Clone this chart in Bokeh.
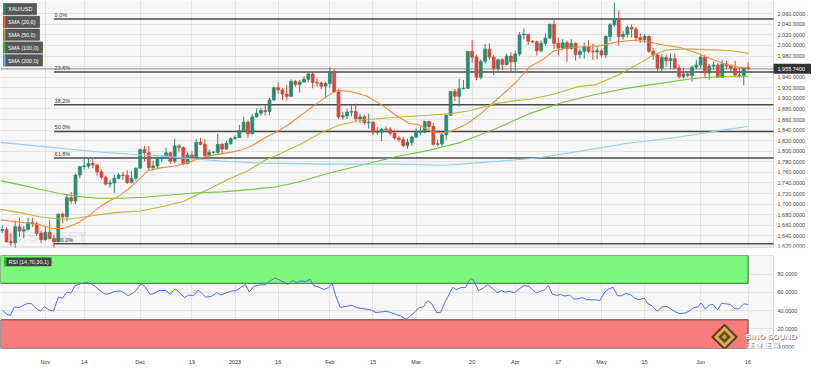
import pandas as pd
from bokeh.plotting import figure
from bokeh.models import ColumnDataSource, FixedTicker, Range1d, Grid
from bokeh.layouts import column
from bokeh.embed import file_html
from bokeh.resources import INLINE
from bokeh.core.properties import value

# ---------------- data ----------------
start_date = "2022-10-18"
end_date = "2023-06-16"

opens = [1650, 1652, 1629, 1627, 1657, 1649, 1652, 1665, 1663, 1645,
         1633, 1647, 1635, 1629, 1681, 1676, 1712, 1706, 1755, 1771,
         1772, 1777, 1774, 1761, 1751, 1738, 1740, 1749, 1755, 1754,
         1741, 1749, 1768, 1803, 1797, 1769, 1772, 1786, 1789, 1797,
         1781, 1810, 1807, 1777, 1793, 1787, 1817, 1813, 1792, 1798,
         1798, 1813, 1804, 1815, 1824, 1826, 1839, 1855, 1833, 1865,
         1872, 1877, 1875, 1897, 1920, 1916, 1908, 1904, 1932, 1926,
         1931, 1936, 1946, 1930, 1929, 1923, 1928, 1951, 1912, 1865,
         1867, 1874, 1875, 1861, 1865, 1854, 1855, 1836, 1836, 1842,
         1841, 1834, 1825, 1822, 1811, 1817, 1827, 1836, 1836, 1856,
         1847, 1813, 1814, 1831, 1868, 1913, 1904, 1918, 1919, 1989,
         1978, 1940, 1970, 1993, 1978, 1956, 1973, 1964, 1980, 1969,
         1984, 2020, 2021, 2008, 2007, 1990, 2004, 2014, 2040, 2004,
         1995, 2005, 1994, 2004, 1983, 1989, 1998, 1989, 1988, 1990,
         1982, 2017, 2039, 2050, 2017, 2021, 2034, 2031, 2015, 2011,
         2017, 1989, 1982, 1957, 1977, 1971, 1975, 1957, 1941, 1946,
         1943, 1959, 1963, 1978, 1948, 1961, 1963, 1940, 1965, 1961,
         1957, 1944, 1943, 1958]
highs = [1660, 1656, 1645, 1669, 1675, 1659, 1674, 1674, 1667, 1650,
         1658, 1669, 1642, 1682, 1684, 1717, 1723, 1758, 1772, 1786,
         1787, 1786, 1775, 1766, 1754, 1746, 1755, 1759, 1761, 1764,
         1763, 1769, 1805, 1810, 1810, 1782, 1790, 1793, 1807, 1799,
         1824, 1814, 1809, 1799, 1800, 1823, 1825, 1823, 1803, 1800,
         1833, 1815, 1820, 1826, 1830, 1850, 1865, 1858, 1870, 1881,
         1882, 1887, 1901, 1922, 1930, 1920, 1925, 1936, 1935, 1935,
         1942, 1949, 1948, 1938, 1932, 1932, 1959, 1956, 1918, 1874,
         1880, 1886, 1890, 1871, 1869, 1871, 1857, 1846, 1844, 1847,
         1846, 1841, 1829, 1827, 1824, 1829, 1843, 1846, 1858, 1858,
         1853, 1822, 1835, 1870, 1914, 1918, 1937, 1935, 1989, 2010,
         1983, 1974, 2003, 2004, 1982, 1975, 1976, 1985, 1987, 1990,
         2025, 2032, 2022, 2010, 2009, 2009, 2023, 2041, 2048, 2015,
         2012, 2009, 2012, 2006, 1994, 2005, 2010, 2003, 2000, 1993,
         2019, 2042, 2081, 2066, 2027, 2037, 2040, 2035, 2023, 2022,
         2019, 1995, 1985, 1984, 1983, 1985, 1985, 1964, 1958, 1948,
         1962, 1973, 1983, 1983, 1965, 1969, 1967, 1973, 1971, 1964,
         1971, 1959, 1958, 1968]
lows = [1645, 1627, 1621, 1617, 1638, 1636, 1650, 1657, 1640, 1627,
        1631, 1634, 1617, 1628, 1664, 1668, 1701, 1700, 1749, 1765,
        1767, 1768, 1754, 1747, 1735, 1731, 1721, 1747, 1746, 1738,
        1739, 1745, 1767, 1781, 1764, 1765, 1768, 1779, 1788, 1776,
        1778, 1799, 1773, 1775, 1784, 1785, 1811, 1785, 1790, 1795,
        1795, 1795, 1803, 1812, 1822, 1826, 1837, 1825, 1832, 1863,
        1867, 1867, 1868, 1895, 1909, 1897, 1896, 1902, 1922, 1911,
        1929, 1930, 1919, 1922, 1917, 1900, 1920, 1910, 1861, 1860,
        1861, 1866, 1857, 1853, 1850, 1843, 1830, 1831, 1819, 1836,
        1830, 1822, 1818, 1808, 1805, 1810, 1825, 1830, 1834, 1841,
        1811, 1809, 1810, 1822, 1867, 1895, 1885, 1917, 1918, 1967,
        1934, 1936, 1966, 1973, 1944, 1950, 1953, 1962, 1949, 1950,
        1980, 2011, 2001, 2004, 1981, 1987, 1999, 2013, 1993, 1981,
        1991, 1969, 1992, 1971, 1975, 1975, 1986, 1973, 1974, 1977,
        1976, 2008, 2035, 2000, 2011, 2015, 2015, 2008, 2005, 2005,
        1986, 1973, 1952, 1951, 1960, 1955, 1957, 1937, 1938, 1940,
        1932, 1955, 1957, 1939, 1935, 1954, 1940, 1939, 1955, 1951,
        1940, 1939, 1925, 1953]
closes = [1652, 1629, 1627, 1657, 1649, 1652, 1665, 1663, 1645, 1633,
          1647, 1635, 1629, 1681, 1676, 1712, 1706, 1755, 1771, 1772,
          1777, 1774, 1761, 1751, 1738, 1740, 1749, 1755, 1754, 1741,
          1749, 1768, 1803, 1797, 1769, 1772, 1786, 1789, 1797, 1781,
          1810, 1807, 1777, 1793, 1787, 1817, 1813, 1792, 1798, 1798.5,
          1813, 1804, 1815, 1824, 1826, 1839, 1855, 1833, 1865, 1872,
          1877, 1875, 1897, 1920, 1916, 1908, 1904, 1932, 1926, 1931,
          1936, 1946, 1930, 1929, 1923, 1928, 1951, 1912, 1865, 1867,
          1874, 1875, 1861, 1865, 1854, 1855, 1836, 1836.5, 1842, 1841,
          1834, 1825, 1822, 1811, 1817, 1827, 1836, 1836.5, 1856, 1847,
          1813, 1814, 1831, 1868, 1913, 1904, 1918, 1919, 1989, 1978,
          1940, 1970, 1993, 1978, 1956, 1973, 1964, 1980, 1969, 1984,
          2020, 2021, 2008, 2007, 1990, 2004, 2014, 2040, 2004, 1995,
          2005, 1994, 2004, 1983, 1989, 1998, 1989, 1988, 1990, 1982,
          2017, 2039, 2050, 2017, 2021, 2034, 2031, 2015, 2011, 2017,
          1989, 1982, 1957, 1977, 1971, 1975, 1957, 1941, 1946, 1943,
          1959, 1963, 1978, 1948, 1961, 1963, 1940, 1965, 1961, 1957,
          1944, 1943, 1958, 1955.74]

# moving averages (candle position, price)
sma20_pos = [-0.4, 4.2, 8.7, 11.7, 14.0, 15.9, 17.8, 20.1, 22.3, 24.6,
             26.9, 29.2, 31.4, 33.7, 36.7, 39.8, 42.8, 45.8, 48.9, 52.6,
             55.7, 58.0, 61.0, 63.3, 66.3, 69.3, 72.3, 75.4, 77.6, 80.7,
             84.5, 88.3, 91.3, 94.3, 96.6, 99.6, 101.9, 104.2, 108.0, 111.0,
             114.8, 119.3, 122.3, 125.4, 128.0, 131.4, 136.0, 139.0, 142.8, 146.6,
             149.6, 153.4, 157.2, 161.7, 164.8, 167.8, 170.8, 173.0]
sma20_val = [1670.2, 1665.8, 1661.1, 1653.9, 1653.9, 1658.6, 1665.8, 1677.9, 1693.0, 1705.1,
             1714.2, 1728.1, 1744.4, 1762.5, 1768.5, 1771.5, 1777.5, 1786.6, 1792.6, 1797.4,
             1802.9, 1810.7, 1825.9, 1834.9, 1850.0, 1868.0, 1886.2, 1904.3, 1914.6, 1913.3,
             1904.3, 1886.2, 1868.0, 1853.0, 1850.0, 1836.7, 1835.0, 1837.8, 1853.0, 1871.1,
             1898.3, 1931.4, 1959.5, 1973.6, 1989.9, 1995.7, 1997.9, 1999.7, 2006.9, 2009.8,
             2006.9, 2000.8, 1996.1, 1983.9, 1973.6, 1964.6, 1958.6, 1957.3]
sma50_pos = [-0.4, 4.2, 8.7, 13.3, 15.9, 20.8, 26.1, 32.2, 37.5, 42.0,
             45.1, 48.9, 52.6, 57.2, 61.0, 63.3, 69.3, 73.9, 78.4, 83.7,
             91.3, 98.9, 104.2, 108.7, 114.0, 118.5, 122.3, 127.6, 133.7, 137.5,
             143.5, 148.1, 151.1, 154.2, 158.7, 164.8, 169.3, 173.1]
sma50_val = [1690.1, 1683.9, 1676.1, 1672.0, 1672.0, 1677.9, 1683.9, 1687.0, 1696.0, 1705.1,
             1717.2, 1732.3, 1747.3, 1764.0, 1783.5, 1791.1, 1813.7, 1834.9, 1850.0, 1859.0,
             1864.4, 1868.0, 1871.1, 1877.1, 1889.2, 1895.2, 1898.3, 1907.3, 1922.4, 1925.4,
             1946.5, 1967.6, 1982.7, 1991.7, 1993.5, 1991.7, 1989.9, 1985.1]
sma100_pos = [-0.4, 4.2, 8.7, 13.3, 17.8, 22.3, 27.6, 32.9, 39.0, 45.1,
              51.1, 57.2, 63.3, 68.5, 76.1, 83.7, 91.3, 98.9, 106.4, 114.0,
              122.3, 129.9, 137.5, 145.1, 152.6, 160.2, 164.8, 169.3, 173.1]
sma100_val = [1744.4, 1736.4, 1728.1, 1720.1, 1714.2, 1711.1, 1711.1, 1712.9, 1717.2, 1721.4,
              1723.2, 1727.4, 1732.3, 1741.3, 1759.4, 1774.4, 1789.7, 1801.6, 1816.8, 1840.9,
              1871.1, 1892.1, 1907.3, 1919.3, 1928.3, 1937.4, 1940.5, 1941.7, 1941.7]
sma200_pos = [-0.4, 7.2, 14.8, 22.3, 29.9, 37.5, 45.1, 52.6, 60.2, 76.1,
              91.3, 102.6, 109.5, 117.0, 124.6, 133.7, 145.1, 156.4, 167.8, 172.9]
sma200_val = [1816.8, 1810.7, 1804.7, 1798.7, 1794.4, 1790.7, 1784.8, 1780.6, 1777.5, 1775.7,
              1775.7, 1773.4, 1777.5, 1782.4, 1787.8, 1799.8, 1815.0, 1825.9, 1840.9, 1846.9]

# RSI(14) (candle position, value)
rsi_pos = [0.0, 1.1, 1.9, 2.8, 3.8, 4.5, 6.0, 6.8, 7.9, 8.9,
           9.8, 10.8, 11.9, 13.0, 14.0, 15.0, 15.9, 16.9, 18.2, 19.5,
           20.4, 21.6, 22.7, 23.9, 25.0, 26.1, 27.6, 29.2, 30.7, 32.2,
           33.1, 34.3, 35.2, 36.4, 37.9, 39.0, 40.1, 41.1, 42.3, 43.2,
           44.3, 45.4, 46.2, 47.2, 48.5, 49.8, 50.7, 51.9, 53.0, 54.2,
           55.3, 56.4, 57.3, 58.3, 59.5, 61.0, 62.1, 63.3, 64.4, 65.5,
           66.3, 67.4, 68.2, 69.3, 70.4, 71.4, 72.3, 73.5, 74.6, 75.7,
           76.5, 77.3, 78.4, 79.5, 81.1, 82.2, 83.3, 84.5, 85.6, 86.7,
           87.9, 89.0, 90.1, 91.3, 92.4,
           93.7, 94.7, 95.8, 96.7, 97.7, 98.7, 99.6, 100.8, 101.7, 102.6,
           104.5, 105.3, 106.4, 107.4, 108.6, 109.3, 110.5, 111.7, 112.6, 113.6,
           114.8, 115.8, 116.7, 117.6, 118.8, 119.9, 121.0, 122.0, 123.0, 123.9,
           124.8, 125.8, 126.7, 127.6, 128.6, 129.5, 130.5, 131.6, 132.6, 133.6,
           134.6, 135.6, 136.6, 137.6, 138.6, 139.8, 140.7, 141.7, 142.7, 143.6,
           144.7, 145.7, 146.7, 147.7, 148.9, 149.8, 150.8, 151.9, 153.0, 154.2,
           155.1, 156.3, 157.2, 158.3, 159.3, 160.4, 161.4, 162.1, 163.1, 164.0,
           164.9, 165.9, 166.9, 167.8, 168.8, 169.9, 170.8, 172.0, 173.0]
rsi_val = [40.7, 35.9, 34.9, 44.1, 43.4, 44.8, 48.2, 47.5, 42.4, 39.4,
           44.5, 41.0, 39.4, 54.7, 53.7, 60.5, 59.1, 67.4, 69.7, 70.8,
           70.1, 66.4, 61.9, 58.1, 58.8, 61.2, 61.5, 56.4, 60.5, 69.4,
           66.4, 57.8, 58.8, 61.9, 62.2, 58.1, 63.9, 59.8, 54.4, 57.1,
           56.4, 62.6, 59.8, 54.7, 55.7, 59.8, 57.1, 59.5, 61.2, 61.9,
           65.3, 68.7, 60.5, 66.4, 68.1, 68.4, 72.5, 75.9, 73.5, 70.8,
           68.7, 73.5, 70.8, 72.5, 72.1, 74.2, 67.4, 65.6, 63.2, 65.3,
           70.1, 57.1, 43.4, 44.5, 45.8, 43.4, 42.4, 41.7, 40.7, 38.0,
           38.6, 39.3, 38.0, 35.9, 34.2,
           30.5, 34.2, 39.0, 43.4, 44.1, 50.9, 47.9, 37.6, 38.3, 48.5,
           65.6, 63.2, 65.3, 65.3, 75.2, 73.5, 61.9, 65.3, 68.4, 65.0,
           59.8, 61.9, 60.2, 61.2, 59.5, 63.9, 67.4, 67.0, 63.2, 59.5,
           61.2, 62.9, 67.4, 58.1, 56.8, 57.8, 56.1, 57.1, 52.7, 53.0,
           54.4, 52.0, 52.0, 52.0, 51.0, 60.5, 63.9, 65.6, 56.4, 56.4,
           58.8, 57.8, 53.7, 52.0, 53.7, 47.5, 45.1, 39.3, 44.1, 44.5,
           41.7, 38.3, 36.6, 37.3, 39.3, 43.4, 44.1, 48.5, 41.7, 46.2,
           46.8, 40.7, 48.2, 47.5, 46.8, 42.4, 41.7, 47.5, 46.8]
rsi_upper = 70
rsi_lower = 30

fib_start_date = "2022-11-03"
fib_levels = [2050.0, 1949.7, 1887.7, 1837.5, 1787.4, 1625.0]
fib_labels = ["0.0%", "23.6%", "38.2%", "50.0%", "61.8%", "100.0%"]

tick_dates = ["2022-11-01", "2022-11-14", "2022-12-01", "2022-12-19", "2023-01-02",
              "2023-01-16", "2023-02-01", "2023-02-15", "2023-03-01", "2023-03-20",
              "2023-04-03", "2023-04-17", "2023-05-01", "2023-05-15", "2023-06-01",
              "2023-06-16"]
tick_labels = ["Nov", "14", "Dec", "19", "2023", "16", "Feb", "15", "Mar", "20",
               "Apr", "17", "May", "15", "Jun", "16"]
price_ticks = [1620, 1640, 1660, 1680, 1700, 1720, 1740, 1760, 1780, 1800, 1820, 1840,
               1860, 1880, 1900, 1920, 1940, 1960, 1980, 2000, 2020, 2040, 2060]
rsi_ticks = [0, 20, 40, 60, 80]

legend_names = ["XAU/USD", "SMA (20,0)", "SMA (50,0)", "SMA (100,0)", "SMA (200,0)"]

# ---------------- styling / layout ----------------
FONT = "Liberation Sans"
FS = "5.5px"
GREEN = "#2a8a6e"
RED = "#d4473a"
SMA_COLORS = ["#f08a3c", "#c4b23c", "#7cc043", "#8ccff3"]
STRIPES = ["#2a8a6e", "#f0602a", "#b09a30", "#46b030", "#56b8ee"]
GRID = "#e3e3e3"
AXIS_LINE = "#d0d0d0"

dates = pd.bdate_range(start_date, end_date)
n = len(closes)
xs = list(range(n))
tick_idx = [int(dates.get_loc(pd.Timestamp(d))) for d in tick_dates]
fib_x0 = int(dates.get_loc(pd.Timestamp(fib_start_date)))

FW = 773            # width of the plotting area
RB = 38             # width of the value-scale strip on the right
X0, X1 = -0.4, 178.9
KX = (X1 - X0) / FW
XE = X0 + (FW + RB) * KX
MAIN_H, GAP = 247, 8
RSI_H, AXIS_H = 96, 16
PY0, PY1 = 1618.0, 2085.0
RY0, RY1 = -1.5, 100.5


def dx(px):
    return X0 + px * KX


def dyp(py):
    return PY1 - py * (PY1 - PY0) / MAIN_H


def dyr(py):
    return RY1 - py * (RY1 - RY0) / RSI_H


xr = Range1d(X0, XE)


def scale_strip(fig, y0, y1):
    """White strip on the right that carries the value labels."""
    fig.quad(left=[X1], right=[XE], bottom=[y0], top=[y1], fill_color="white", line_color=None)
    fig.segment(x0=[X1], y0=[y0], x1=[X1], y1=[y1], line_color=AXIS_LINE, line_width=1)


def scale_labels(fig, ticks, labels):
    fig.text(x=[X1] * len(ticks), y=ticks, text=labels, x_offset=4,
             text_font=value(FONT), text_font_size=FS, text_color="#444444",
             text_baseline="middle", text_align="left")


# ---------------- main price panel ----------------
p = figure(width=FW + RB, height=MAIN_H + GAP, x_range=xr, y_range=Range1d(PY0, PY1),
           x_axis_location=None, y_axis_location=None,
           output_backend="svg", toolbar_location=None,
           min_border_left=0, min_border_right=0, min_border_top=0, min_border_bottom=GAP,
           background_fill_color="#f7f7f7", border_fill_color="white",
           outline_line_color=None)
p.grid.visible = False
p.add_layout(Grid(dimension=0, ticker=FixedTicker(ticks=tick_idx), grid_line_color=GRID))
p.add_layout(Grid(dimension=1, ticker=FixedTicker(ticks=price_ticks), grid_line_color=GRID))

scale_strip(p, PY0, PY1)
scale_labels(p, price_ticks, [f"{v:,.4f}" for v in price_ticks])
p.segment(x0=[X0], y0=[PY0], x1=[X1], y1=[PY0], line_color="#cfcfcf", line_width=1)

# watermark
p.text(x=[dx(8)], y=[dyp(236)], text=["FXSTREET"], text_font=value(FONT),
       text_font_size="15px", text_font_style="bold", text_color="#a0a0a0",
       text_alpha=0.18, text_baseline="middle")

# fibonacci levels
p.segment(x0=[fib_x0] * len(fib_levels), y0=fib_levels, x1=[X1] * len(fib_levels),
          y1=fib_levels, line_color="#4a4a4a", line_width=1.5)
p.text(x=[fib_x0 + 0.15] * len(fib_levels), y=fib_levels, text=fib_labels,
       text_font=value(FONT), text_font_size=FS, text_color="#333333",
       text_baseline="bottom", y_offset=-1)

# current price line
p.segment(x0=[X0], y0=[closes[-1]], x1=[X1], y1=[closes[-1]],
          line_color="#8a8a8a", line_width=1)

# candles
src = ColumnDataSource(dict(
    x=xs, high=highs, low=lows,
    top=[max(o, c) for o, c in zip(opens, closes)],
    bottom=[min(o, c) for o, c in zip(opens, closes)],
    color=[GREEN if c >= o else RED for o, c in zip(opens, closes)]))
p.segment(x0="x", y0="high", x1="x", y1="low", line_color="color", line_width=1, source=src)
p.vbar(x="x", width=0.66, top="top", bottom="bottom", fill_color="color",
       line_color="color", line_width=0.8, source=src)

# moving averages
for (px_, py_), col in zip([(sma20_pos, sma20_val), (sma50_pos, sma50_val),
                            (sma100_pos, sma100_val), (sma200_pos, sma200_val)], SMA_COLORS):
    p.line(px_, py_, line_color=col, line_width=1.1)

# last-price tag on the value scale
half = 5 * (PY1 - PY0) / MAIN_H
p.quad(left=[X1], right=[XE], bottom=[closes[-1] - half], top=[closes[-1] + half],
       fill_color="#333333", line_color=None)
p.text(x=[X1], y=[closes[-1]], text=[f"{closes[-1]:,.4f}"], x_offset=4,
       text_font=value(FONT), text_font_size=FS, text_color="white",
       text_baseline="middle", text_align="left")

# legend boxes
box_w = [33, 36, 36, 39, 39]
for i, name in enumerate(legend_names):
    top = 3 + 12.8 * i
    bot = top + 11.2
    p.quad(left=[dx(3)], right=[dx(3 + box_w[i])], top=[dyp(top)], bottom=[dyp(bot)],
           fill_color="#585858", line_color="#454545", line_width=0.6)
    p.quad(left=[dx(3)], right=[dx(5)], top=[dyp(top)], bottom=[dyp(bot)],
           fill_color=STRIPES[i], line_color=None)
    p.text(x=[dx(7.5)], y=[dyp(top + 5.8)], text=[name], text_font=value(FONT),
           text_font_size=FS, text_color="white", text_baseline="middle")

# ---------------- RSI panel ----------------
r = figure(width=FW + RB, height=RSI_H + AXIS_H, x_range=xr, y_range=Range1d(RY0, RY1),
           y_axis_location=None, output_backend="svg", toolbar_location=None,
           min_border_left=0, min_border_right=0, min_border_top=0, min_border_bottom=AXIS_H,
           background_fill_color="#f7f7f7", border_fill_color="white",
           outline_line_color=None)
r.grid.visible = False
r.add_layout(Grid(dimension=0, ticker=FixedTicker(ticks=tick_idx), grid_line_color=GRID))
r.add_layout(Grid(dimension=1, ticker=FixedTicker(ticks=rsi_ticks), grid_line_color=GRID))

scale_strip(r, RY0, RY1)
r.segment(x0=[X0, X0], y0=[RY1, RY0], x1=[X1, X1], y1=[RY1, RY0],
          line_color="#c8c8c8", line_width=1)

r.quad(left=[X0], right=[n - 1], bottom=[rsi_upper], top=[RY1],
       fill_color="#7ef87c", line_color="#2b7a2b", line_width=1)
r.quad(left=[X0], right=[n - 1], bottom=[RY0], top=[rsi_lower],
       fill_color="#f87b7b", line_color="#505050", line_width=1)
r.line(rsi_pos, rsi_val, line_color="#4b6cf0", line_width=1)

r.xaxis.ticker = FixedTicker(ticks=tick_idx)
r.xaxis.major_label_overrides = {t: lab for t, lab in zip(tick_idx, tick_labels)}
r.xaxis.axis_line_color = None
r.xaxis.major_tick_line_color = None
r.xaxis.minor_tick_line_color = None
r.xaxis.major_label_text_font_size = FS
r.xaxis.major_label_text_font = FONT
r.xaxis.major_label_text_color = "#333333"
r.xaxis.major_label_standoff = 4

# RSI legend
r.quad(left=[dx(4)], right=[dx(51)], top=[dyr(2)], bottom=[dyr(11)],
       fill_color="#333333", fill_alpha=0.9, line_color=None)
r.quad(left=[dx(4)], right=[dx(6)], top=[dyr(2)], bottom=[dyr(11)],
       fill_color="#22c022", line_color=None)
r.text(x=[dx(8)], y=[dyr(6.6)], text=["RSI (14,70,30,1)"], text_font=value(FONT),
       text_font_size=FS, text_color="white", text_baseline="middle")

# value labels of the RSI panel
scale_labels(r, rsi_ticks, [f"{v:.4f}" for v in rsi_ticks])

# publisher watermark (bottom right)
lx, ly = dx(724), dyr(84)
for size, col in [(19, "#5a3e18"), (15, "#d6ae5a"), (9, "#6a4a1c"), (4, "#b9a048")]:
    r.scatter(x=[lx], y=[ly], marker="square", angle=0.785398, size=size,
              fill_color=col, line_color=None)
for off, col in [(1, "#8a8a8a"), (0, "white")]:
    r.text(x=[dx(745)], y=[dyr(84)], x_offset=off, y_offset=off, text=["SINO SOUND"],
           text_font=value(FONT), text_font_size="8px", text_font_style="bold",
           text_color=col, text_baseline="middle")
    r.text(x=[dx(746)], y=[dyr(92)], x_offset=off, y_offset=off, text=["漢 聲 集 團"],
           text_font=value("Noto Sans CJK TC"), text_font_size="7px",
           text_font_style="bold", text_color=col, text_baseline="middle")

layout = column(p, r, spacing=0)
open("out.html", "w").write(file_html(layout, INLINE))
